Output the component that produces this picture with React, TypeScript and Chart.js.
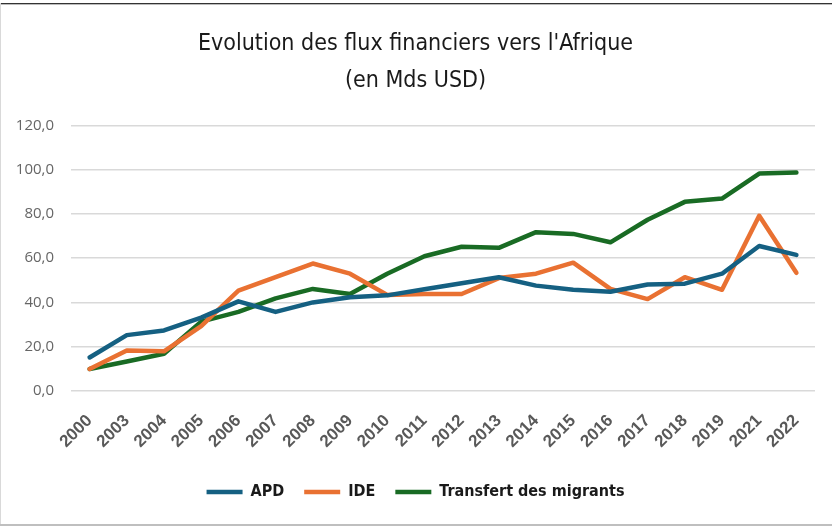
import React, { useEffect, useRef } from "react";
import { Chart, registerables } from "chart.js";

Chart.register(...registerables);

const years = ["2000","2003","2004","2005","2006","2007","2008","2009","2010","2011","2012","2013","2014","2015","2016","2017","2018","2019","2021","2022"];
const apd = [15.1, 25.2, 27.3, 33.1, 40.5, 35.7, 40.0, 42.3, 43.2, 46.0, 48.7, 51.4, 47.6, 45.7, 44.8, 48.1, 48.5, 53.0, 65.5, 61.5];
const ide = [9.9, 18.2, 17.9, 29.3, 45.3, 51.4, 57.6, 53.0, 43.4, 43.8, 43.8, 51.0, 53.0, 58.0, 46.1, 41.5, 51.4, 45.7, 79.2, 53.4];
const migrants = [9.9, 13.3, 16.8, 31.3, 35.7, 41.8, 46.1, 43.8, 53.0, 60.9, 65.2, 64.7, 71.8, 71.0, 67.2, 77.4, 85.5, 87.0, 98.3, 98.8];
const seriesNames = ["APD", "IDE", "Transfert des migrants"];
const seriesColors = ["#156082", "#E97132", "#196B24"];
const titleLines = ["Evolution des flux financiers vers l'Afrique", "(en Mds USD)"];

const narrow = "'DejaVu Sans Condensed', 'Liberation Sans', sans-serif";

export default function App() {
  const ref = useRef<HTMLCanvasElement | null>(null);
  useEffect(() => {
    document.body.style.margin = "0";
    const ctx = ref.current!;
    const values = [apd, ide, migrants];
    const chart = new Chart(ctx, {
      type: "line",
      data: {
        labels: years,
        datasets: values.map((v, i) => ({
          label: seriesNames[i],
          data: v,
          borderColor: seriesColors[i],
          backgroundColor: seriesColors[i],
          borderWidth: 4.5,
          borderCapStyle: "round" as const,
          borderJoinStyle: "round" as const,
          pointRadius: 0,
          pointHoverRadius: 0,
          tension: 0,
        })),
      },
      options: {
        responsive: false,
        animation: false,
        layout: { padding: { left: 16, right: 17, top: 14, bottom: 16 } },
        plugins: {
          title: {
            display: true,
            text: titleLines,
            color: "#1a1a1a",
            font: { family: narrow, size: 23, weight: "normal", lineHeight: 1.6 },
            padding: { top: 12, bottom: 26 },
          },
          legend: {
            position: "bottom",
            labels: {
              usePointStyle: true,
              pointStyle: "line",
              pointStyleWidth: 36,
              boxHeight: 14,
              color: "#1a1a1a",
              font: { family: narrow, size: 16, weight: "bold" },
              padding: 20,
            },
          },
          tooltip: { enabled: false },
        },
        scales: {
          x: {
            offset: true,
            grid: { display: false },
            border: { display: false },
            ticks: {
              maxRotation: 45,
              minRotation: 45,
              color: "#595959",
              font: { family: "'Liberation Sans', sans-serif", size: 17, weight: "bold" },
              padding: 12,
              autoSkip: false,
            },
          },
          y: {
            min: 0,
            max: 120,
            grid: { color: "#D9D9D9", lineWidth: 1.5, drawTicks: false },
            border: { display: false },
            afterFit: (s: any) => { s.width = 55; },
            ticks: {
              stepSize: 20,
              color: "#666666",
              padding: 17,
              font: { family: "'Open Sans', sans-serif", size: 15 },
              callback: (v: any) => Number(v).toFixed(1).replace(".", ","),
            },
          },
        },
      },
    });
    return () => chart.destroy();
  }, []);
  return (
    <div style={{ position: "fixed", left: 0, top: 0, width: 832, height: 526, background: "#fff" }}>
      <canvas ref={ref} width={832} height={526} style={{ position: "absolute", left: 0, top: 0 }} />
      <div style={{ position: "absolute", left: 0, top: 3, width: 832, height: 1, background: "#333" }} />
      <div style={{ position: "absolute", left: 0, top: 4, width: 832, height: 1, background: "#bbb" }} />
      <div style={{ position: "absolute", left: 0, top: 3, width: 1, height: 523, background: "#d9d9d9" }} />
      <div style={{ position: "absolute", left: 0, top: 524, width: 832, height: 2, background: "#bfbfbf" }} />
    </div>
  );
}
